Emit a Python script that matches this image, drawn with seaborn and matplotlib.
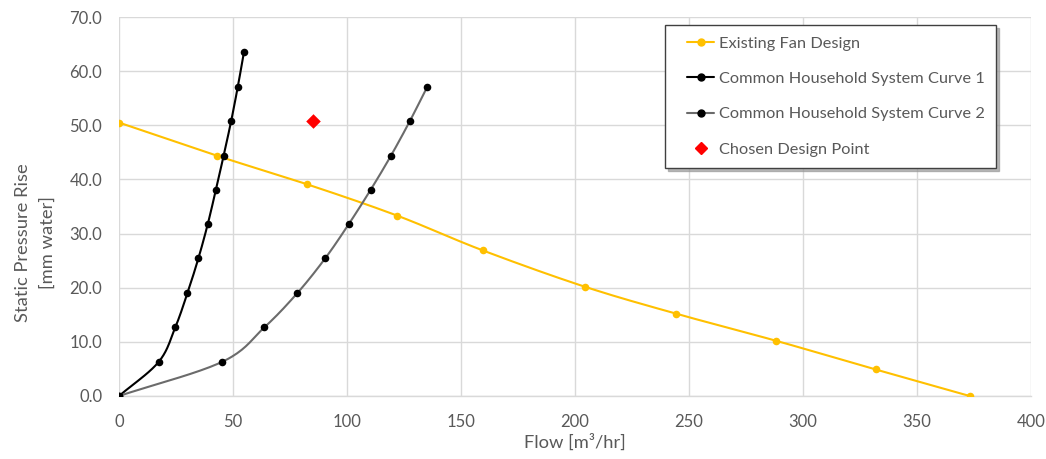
import numpy as np
import pandas as pd
import matplotlib
matplotlib.use("Agg")
import matplotlib.pyplot as plt
import seaborn as sns
from matplotlib.lines import Line2D
from matplotlib.legend_handler import HandlerLine2D

# ---- data ----
fan_flow = [0, 42.8, 82.5, 122.1, 159.5, 204.2, 244.4, 288.2, 331.9, 373.1]
fan_pressure = [50.5, 44.4, 39.1, 33.3, 26.9, 20.2, 15.2, 10.2, 4.9, 0.0]

sys1_flow = [0, 17.4, 24.7, 30.0, 34.8, 38.9, 42.5, 45.9, 49.2, 52.1, 54.8]
sys1_pressure = [0, 6.3, 12.7, 19.0, 25.4, 31.7, 38.1, 44.4, 50.8, 57.1, 63.5]

sys2_flow = [0, 45.2, 63.8, 78.2, 90.4, 100.7, 110.4, 119.3, 127.6, 135.2]
sys2_pressure = [0, 6.3, 12.7, 19.0, 25.4, 31.7, 38.1, 44.4, 50.8, 57.1]

design_flow = [84.9]
design_pressure = [50.8]

series_names = ["Existing Fan Design", "Common Household System Curve 1",
                "Common Household System Curve 2", "Chosen Design Point"]

x_ticks = [0, 50, 100, 150, 200, 250, 300, 350, 400]
y_ticks = [0, 10, 20, 30, 40, 50, 60, 70]

XMAX, YMAX = 400, 70


def smooth(xs, ys, n=20):
    """Catmull-Rom smoothing (like Excel's smoothed line) in normalized space."""
    sx, sy = XMAX * 0.9, YMAX * 0.417 * 0.9
    p = np.column_stack([np.asarray(xs) / sx, np.asarray(ys) / sy])
    pts = np.vstack([p[0] - (p[1] - p[0]), p, p[-1] + (p[-1] - p[-2])])
    out = []
    for i in range(1, len(pts) - 2):
        p0, p1, p2, p3 = pts[i - 1], pts[i], pts[i + 1], pts[i + 2]
        t = np.linspace(0, 1, n, endpoint=False)[:, None]
        c = 0.5 * ((2 * p1) + (-p0 + p2) * t + (2 * p0 - 5 * p1 + 4 * p2 - p3) * t ** 2
                   + (-p0 + 3 * p1 - 3 * p2 + p3) * t ** 3)
        out.append(c)
    out.append(p[-1:])
    c = np.vstack(out)
    return c[:, 0] * sx, c[:, 1] * sy


sns.set_style("white")
plt.rcParams["font.family"] = ["Lato", "DejaVu Sans"]

fig = plt.figure(figsize=(10.46, 4.59), dpi=100)
ax = fig.add_axes([119 / 1046, 1 - 396 / 459, 912 / 1046, 379 / 459])

TXT = "#595959"
YELLOW = "#FFC000"
GRAY_LINE = "#6b6b6b"

series = [
    (fan_flow, fan_pressure, YELLOW, YELLOW, 1.5),
    (sys1_flow, sys1_pressure, "black", "black", 1.5),
    (sys2_flow, sys2_pressure, GRAY_LINE, "black", 1.5),
]
for xs, ys, lc, mc, lw in series:
    sx, sy = smooth(xs, ys)
    df = pd.DataFrame({"x": sx, "y": sy})
    sns.lineplot(data=df, x="x", y="y", ax=ax, color=lc, linewidth=lw,
                 sort=False, estimator=None, zorder=3)
    dfp = pd.DataFrame({"x": xs, "y": ys})
    sns.scatterplot(data=dfp, x="x", y="y", ax=ax, color=mc, s=30,
                    edgecolor=mc, linewidth=0, zorder=4)

sns.scatterplot(data=pd.DataFrame({"x": design_flow, "y": design_pressure}),
                x="x", y="y", ax=ax, marker="D", color="#FF0000", s=55,
                edgecolor="#FF0000", linewidth=0, zorder=5)

ax.set_xlim(0, XMAX)
ax.set_ylim(0, YMAX)
ax.set_xticks(x_ticks)
ax.set_yticks(y_ticks)
ax.set_yticklabels([f"{v:.1f}" for v in y_ticks])
ax.set_xticklabels([str(v) for v in x_ticks])
ax.tick_params(axis="both", length=0, labelsize=12, colors=TXT)
ax.tick_params(axis="x", pad=13)
ax.tick_params(axis="y", pad=12)
ax.grid(True, color="#D9D9D9", linewidth=1.0)
ax.set_axisbelow(True)
for s in ["top", "right", "left"]:
    ax.spines[s].set_visible(False)
ax.spines["bottom"].set_color("#D9D9D9")
ax.spines["bottom"].set_linewidth(1.0)

ax.set_xlabel("Flow [m³/hr]", fontsize=13.2, color=TXT)
ax.set_ylabel("Static Pressure Rise\n[mm water]", fontsize=13.2, color=TXT,
              linespacing=1.7)
ax.xaxis.set_label_coords(0.5, (396 - 434) / 379)
ax.yaxis.set_label_coords((56 - 119) / 912, (396 - 243) / 379)

handles = [
    Line2D([], [], color=YELLOW, marker="o", markersize=5, lw=1.5),
    Line2D([], [], color="black", marker="o", markersize=5, lw=1.5),
    Line2D([], [], color=GRAY_LINE, marker="o", markersize=5, mfc="black",
           mec="black", lw=1.5),
    Line2D([], [], color="#FF0000", marker="D", markersize=6, lw=0),
]
leg = ax.legend(handles, series_names, loc="upper left",
                bbox_to_anchor=(0.599, 0.979), fontsize=11.8, frameon=True,
                fancybox=False,
                shadow={"color": "#9a9a9a", "alpha": 0.7},
                labelspacing=1.27,
                handlelength=2.3, handletextpad=0.25, borderpad=0.7,
                borderaxespad=0,
                handler_map={Line2D: HandlerLine2D(xpad=0.6)})
leg.get_frame().set_edgecolor("#404040")
leg.get_frame().set_linewidth(1.0)
for t in leg.get_texts():
    t.set_color(TXT)
leg.set_zorder(10)

fig.savefig("out.png", dpi=100, facecolor="white")
